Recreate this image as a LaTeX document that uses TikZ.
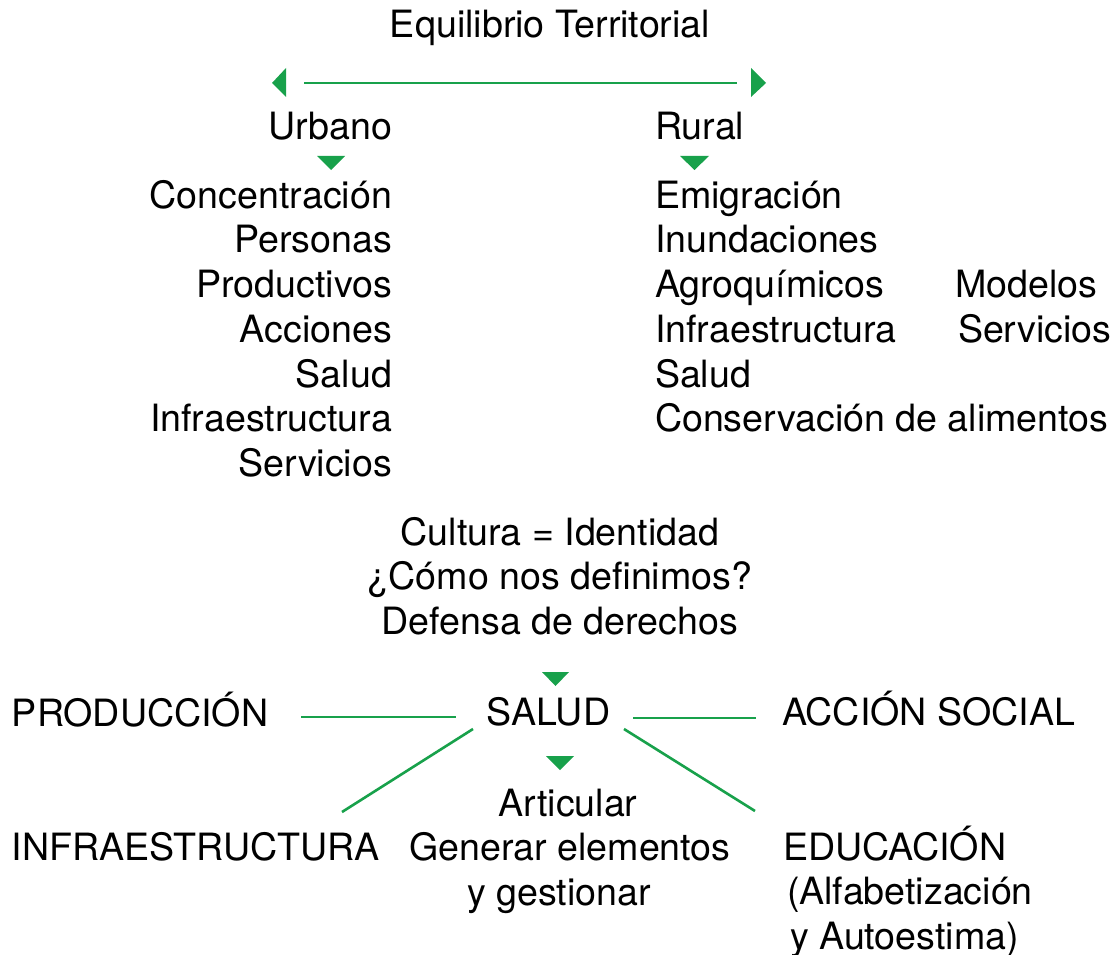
\documentclass[tikz,border=0pt]{standalone}
\usepackage{fontspec}
\setmainfont{TeX Gyre Heros}
\definecolor{gr}{RGB}{24,161,75}
\begin{document}
\begin{tikzpicture}[x=1pt,y=-1pt,
  txt/.style={inner sep=0pt,outer sep=0pt,font=\fontsize{37.6}{45}\selectfont,text=black},
  lw/.style={txt,anchor=base west},
  le/.style={txt,anchor=base east},
  lc/.style={txt,anchor=base},
  conn/.style={draw=gr,line width=2.6pt},
  tri/.style={fill=gr}]
\useasboundingbox (0,0) rectangle (1111,955);
% title
\node[lc] (title) at (550,38) {Equilibrio Territorial};
\coordinate (al) at (304,83);
\coordinate (ar) at (737,83);
\draw[conn] (al) -- (ar);
\fill[tri] (272,83) -- (286,68) -- (286,97) -- cycle;
\fill[tri] (766,83) -- (751,68) -- (751,97) -- cycle;
% urbano column
\node[le] (urb) at (392,140) {Urbano};
\fill[tri] (317,156) -- (345,156) -- (331,170) -- cycle;
\node[le] (u1) at (392,208) {Concentración};
\node[le] (u2) at (392,252.5) {Personas};
\node[le] (u3) at (392,297) {Productivos};
\node[le] (u4) at (392,342) {Acciones};
\node[le] (u5) at (392,387) {Salud};
\node[le] (u6) at (392,431.5) {Infraestructura};
\node[le] (u7) at (392,476) {Servicios};
% rural column
\node[lw] (rur) at (655,140) {Rural};
\fill[tri] (680,156) -- (709,156) -- (694.5,170) -- cycle;
\node[lw] (r1) at (655,208) {Emigración};
\node[lw] (r2) at (655,252.5) {Inundaciones};
\node[lw] (r3) at (655,297) {Agroquímicos};
\node[lw] (r4) at (655,342) {Infraestructura};
\node[lw] (r5) at (655,387) {Salud};
\node[lw] (r6) at (655,431.5) {Conservación de alimentos};
\node[lw] (m1) at (955,297) {Modelos};
\node[lw] (m2) at (958,342) {Servicios};
% cultura
\node[lc] (c1) at (560,545) {Cultura = Identidad};
\node[lc] (c2) at (560,589) {¿Cómo nos definimos?};
\node[lc] (c3) at (560,634) {Defensa de derechos};
\fill[tri] (542,672) -- (569,672) -- (555.5,686) -- cycle;
% salud row
\node[lw] (prod) at (12,726) {PRODUCCIÓN};
\node[lc] (salud) at (548.5,725) {SALUD};
\node[lw] (acc) at (782,725) {ACCIÓN SOCIAL};
\coordinate (p1) at (301,717);
\coordinate (p2) at (456,717);
\coordinate (s1) at (633,718);
\coordinate (s2) at (756,718);
\coordinate (d1) at (473,729);
\coordinate (d2) at (342,812);
\coordinate (e1) at (624,729);
\coordinate (e2) at (755,811);
\draw[conn] (p1) -- (p2);
\draw[conn] (s1) -- (s2);
\draw[conn] (d1) -- (d2);
\draw[conn] (e1) -- (e2);
\fill[tri] (546,756) -- (574,756) -- (560,770) -- cycle;
% bottom
\node[lc] (a1) at (568,816) {Articular};
\node[lc] (a2) at (570,860) {Generar elementos};
\node[lc] (a3) at (559,905) {y gestionar};
\node[lw] (inf) at (12,860) {INFRAESTRUCTURA};
\node[lw] (edu) at (783,860) {EDUCACIÓN};
\node[lw] (edu2) at (787,904) {(Alfabetización};
\node[lw] (edu3) at (790,949) {y Autoestima)};
\end{tikzpicture}
\end{document}
